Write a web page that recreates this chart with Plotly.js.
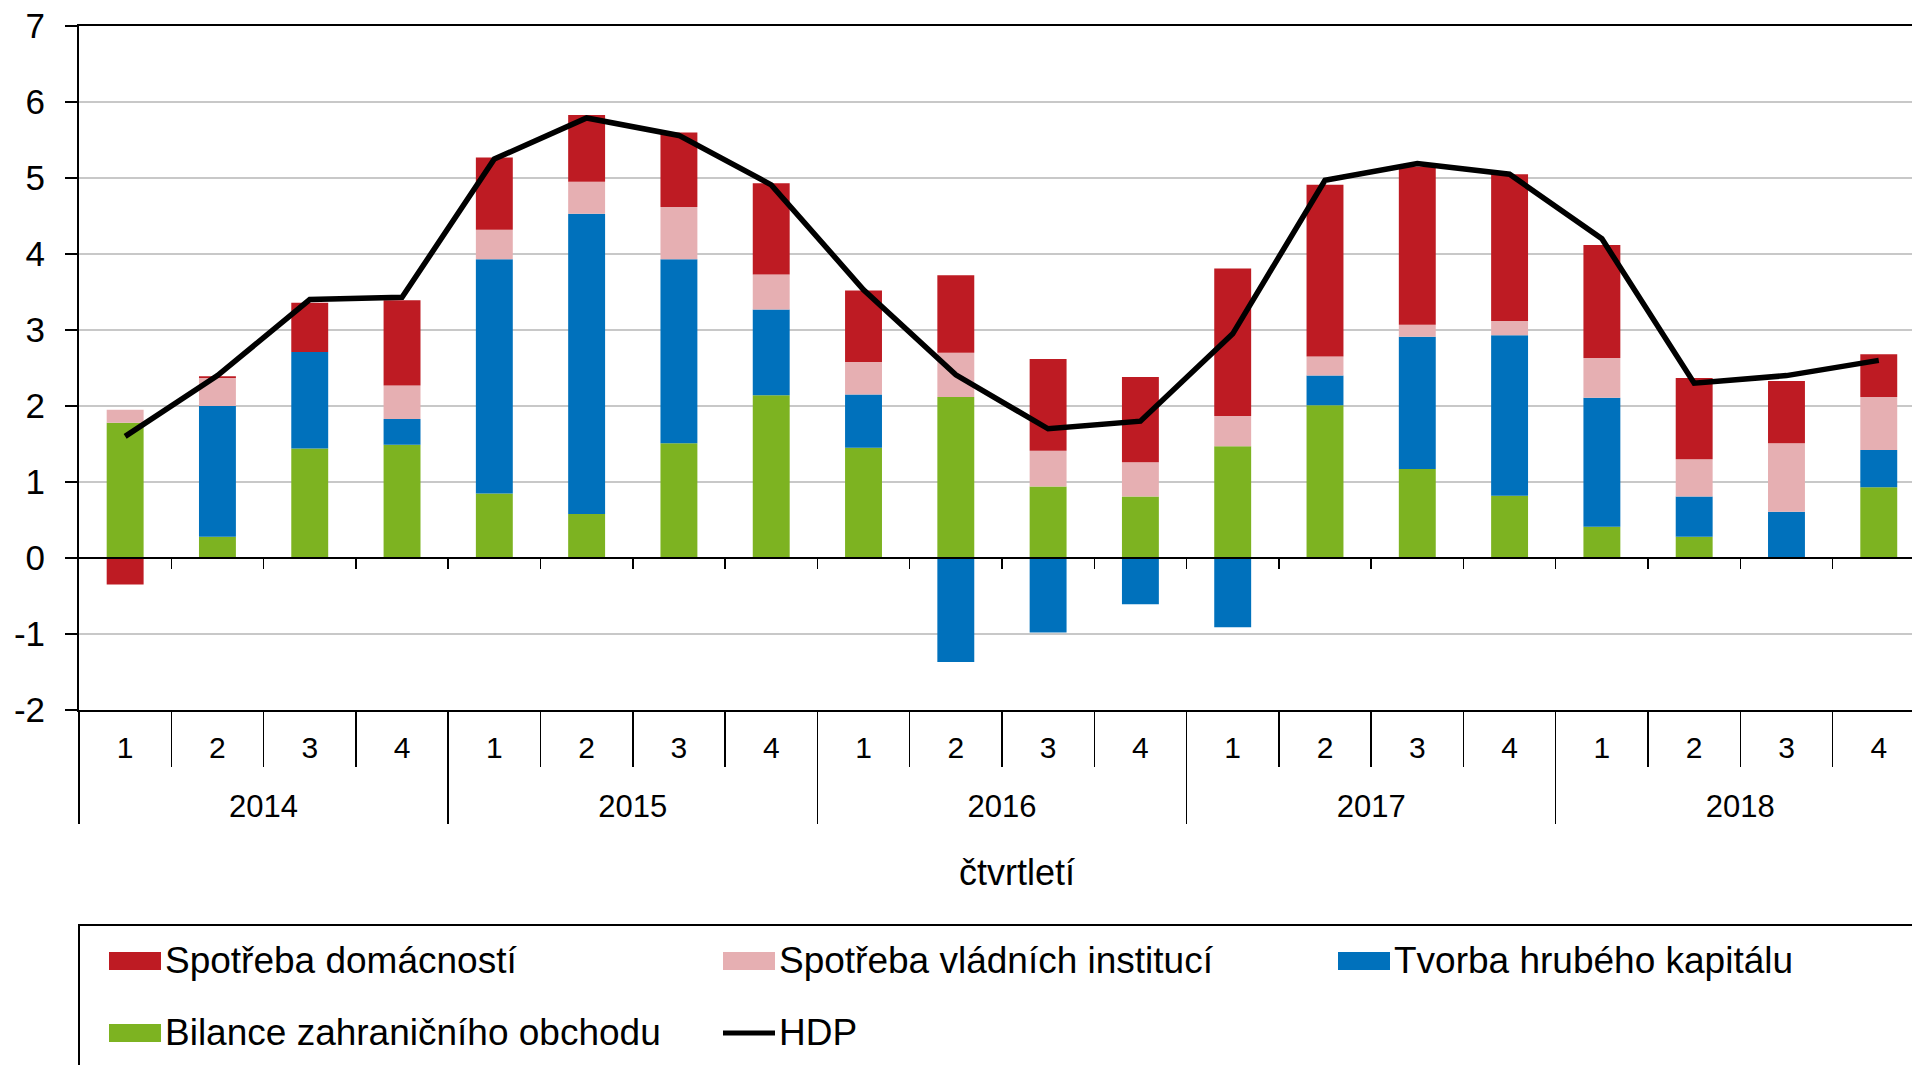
<!DOCTYPE html>
<html>
<head>
<meta charset="utf-8">
<script src="https://cdn.plot.ly/plotly-3.0.1.min.js"></script>
<style>
html,body{margin:0;padding:0;overflow:hidden;background:#fff;}
#chart{width:1912px;height:1065px;}
</style>
</head>
<body>
<div id="chart"></div>
<script>
// ---- data ----
const years = ['2014','2015','2016','2017','2018'];
const quarters = ['1','2','3','4'];
const spotrebaDomacnosti = [-0.35,0.02,0.65,1.12, 0.95,0.88,0.98,1.20, 0.94,1.02,1.21,1.12, 1.94,2.26,2.08,1.93, 1.49,1.07,0.82,0.56];
const spotrebaVladnich   = [0.17,0.37,0.00,0.44, 0.39,0.42,0.69,0.46, 0.43,0.58,0.47,0.45, 0.40,0.25,0.16,0.19, 0.52,0.49,0.90,0.70];
const tvorbaKapitalu     = [0.00,1.72,1.27,0.34, 3.08,3.95,2.42,1.13, 0.70,-1.37,-0.98,-0.61, -0.91,0.39,1.74,2.11, 1.70,0.53,0.61,0.49];
const bilanceObchodu     = [1.78,0.28,1.44,1.49, 0.85,0.58,1.51,2.14, 1.45,2.12,0.94,0.81, 1.47,2.01,1.17,0.82, 0.41,0.28,0.00,0.93];
const hdp                = [1.60,2.40,3.40,3.43, 5.25,5.79,5.56,4.91, 3.53,2.41,1.70,1.80, 2.95,4.97,5.19,5.05, 4.20,2.30,2.40,2.60];
const seriesNames = ['Spotřeba domácností','Spotřeba vládních institucí','Tvorba hrubého kapitálu','Bilance zahraničního obchodu','HDP'];
const yTickVals = [-2,-1,0,1,2,3,4,5,6,7];
const yTickText = ['-2','-1','0','1','2','3','4','5','6','7'];
const xTitle = 'čtvrtletí';

// ---- derived positions (category index) ----
const idx = [];
const qText = [];
years.forEach(function(y, yi){ quarters.forEach(function(q, qi){ idx.push(yi*quarters.length+qi); qText.push(q); }); });
const nCat = idx.length;
const qBounds = idx.slice(0, nCat-1).map(function(i){ return i+0.5; });
const yBounds = years.map(function(y, yi){ return yi*quarters.length-0.5; });
const yCenters = years.map(function(y, yi){ return yi*quarters.length + (quarters.length-1)/2; });

// ---- styles ----
const COL = {red:'rgb(190,27,35)', pink:'rgb(230,175,178)', blue:'rgb(0,113,188)', green:'rgb(125,179,33)'};
const FONT = '"Liberation Sans", Arial, sans-serif';
const L=79, T=26, W=1833, H=684;
function pxX(x){ return (x-L)/W; }
function pxY(y){ return (T+H-y)/H; }
const XR = [-0.5, 19.36];

function bar(y, name, color){
  return {type:'bar', x: idx, y: y, name: name, marker:{color: color, line:{width:0}},
          width:0.4, showlegend:false, hoverinfo:'y+name'};
}
function axisHolder(xa){
  return {type:'scatter', mode:'markers', x:[null], y:[null], xaxis: xa, yaxis:'y',
          showlegend:false, hoverinfo:'skip'};
}
const traces = [
  bar(bilanceObchodu, seriesNames[3], COL.green),
  bar(tvorbaKapitalu, seriesNames[2], COL.blue),
  bar(spotrebaVladnich, seriesNames[1], COL.pink),
  bar(spotrebaDomacnosti, seriesNames[0], COL.red),
  {type:'scatter', mode:'lines', x: idx, y: hdp, name: seriesNames[4],
   line:{color:'#000', width:5.5}, showlegend:false},
  axisHolder('x2'), axisHolder('x3'), axisHolder('x4'), axisHolder('x5')
];

// ---- custom legend (shapes + annotations) ----
const legendItems = [
  {name: seriesNames[0], color: COL.red,  kind:'box',  x:109, y:961},
  {name: seriesNames[1], color: COL.pink, kind:'box',  x:723, y:961},
  {name: seriesNames[2], color: COL.blue, kind:'box',  x:1338, y:961},
  {name: seriesNames[3], color: COL.green,kind:'box',  x:109, y:1033},
  {name: seriesNames[4], color: '#000',   kind:'line', x:723, y:1033}
];
const shapes = [
  {type:'rect', xref:'paper', yref:'paper', x0:pxX(79), x1:pxX(1960), y0:pxY(925), y1:pxY(1100),
   line:{color:'#000', width:2}, fillcolor:'rgba(0,0,0,0)'}
];
const annotations = [
  {xref:'paper', yref:'paper', x:pxX(1017), y:pxY(872), xanchor:'center', yanchor:'middle',
   text: xTitle, showarrow:false, font:{family:FONT, size:36, color:'#000'}}
];
legendItems.forEach(function(it){
  if(it.kind==='box'){
    shapes.push({type:'rect', xref:'paper', yref:'paper', x0:pxX(it.x), x1:pxX(it.x+52),
      y0:pxY(it.y-9), y1:pxY(it.y+9), line:{width:0}, fillcolor: it.color});
  } else {
    shapes.push({type:'line', xref:'paper', yref:'paper', x0:pxX(it.x), x1:pxX(it.x+52),
      y0:pxY(it.y), y1:pxY(it.y), line:{width:5, color: it.color}});
  }
  annotations.push({xref:'paper', yref:'paper', x:pxX(it.x+54), y:pxY(it.y-1), xanchor:'left', yanchor:'middle',
    text: it.name, showarrow:false, font:{family:FONT, size:37, color:'#000'}});
});

const baseX = {range: XR, showgrid:false, zeroline:false, automargin:false, fixedrange:true};
const layout = {
  width:1912, height:1065,
  margin:{l:L, r:0, t:T, b:1065-T-H, pad:0},
  paper_bgcolor:'#fff', plot_bgcolor:'#fff',
  font:{family:FONT, color:'#000'},
  barmode:'relative', bargap:0.6,
  showlegend:false,
  xaxis: Object.assign({}, baseX, {
    tickmode:'array', tickvals: idx, ticktext: qText, ticks:'',
    tickfont:{family:FONT, size:30, color:'#000'}, ticklabelstandoff:10,
    showline:true, linecolor:'#000', linewidth:2, mirror:true
  }),
  xaxis2: Object.assign({}, baseX, {
    overlaying:'x', anchor:'y', side:'bottom', tickmode:'array', tickvals: qBounds,
    ticks:'outside', ticklen:56, tickwidth:1.5, tickcolor:'#000', showticklabels:false, showline:false
  }),
  xaxis3: Object.assign({}, baseX, {
    overlaying:'x', anchor:'y', side:'bottom', tickmode:'array', tickvals: yBounds,
    ticks:'outside', ticklen:113, tickwidth:1.5, tickcolor:'#000', showticklabels:false, showline:false
  }),
  xaxis4: Object.assign({}, baseX, {
    overlaying:'x', anchor:'y', side:'bottom', tickmode:'array', tickvals: yCenters, ticktext: years,
    ticks:'', tickfont:{family:FONT, size:31, color:'#000'}, ticklabelstandoff:75, showline:false
  }),
  xaxis5: Object.assign({}, baseX, {
    overlaying:'x', anchor:'free', position: 2/9, side:'bottom', tickmode:'array', tickvals: qBounds,
    ticks:'outside', ticklen:10, tickwidth:1.5, tickcolor:'#000', showticklabels:false,
    showline:true, linecolor:'#000', linewidth:2, layer:'above traces'
  }),
  yaxis: {
    range:[-2,7], tickmode:'array', tickvals: yTickVals, ticktext: yTickText, automargin:false, fixedrange:true,
    ticks:'outside', ticklen:12, tickwidth:1.5, tickcolor:'#000',
    showline:true, linecolor:'#000', linewidth:2,
    showgrid:true, gridcolor:'#c8c8c8', gridwidth:1.5, zeroline:false,
    tickfont:{family:FONT, size:35, color:'#000'}, ticklabelstandoff:13
  },
  shapes: shapes,
  annotations: annotations
};

Plotly.newPlot('chart', traces, layout, {displayModeBar:false, staticPlot:true});
</script>
</body>
</html>
